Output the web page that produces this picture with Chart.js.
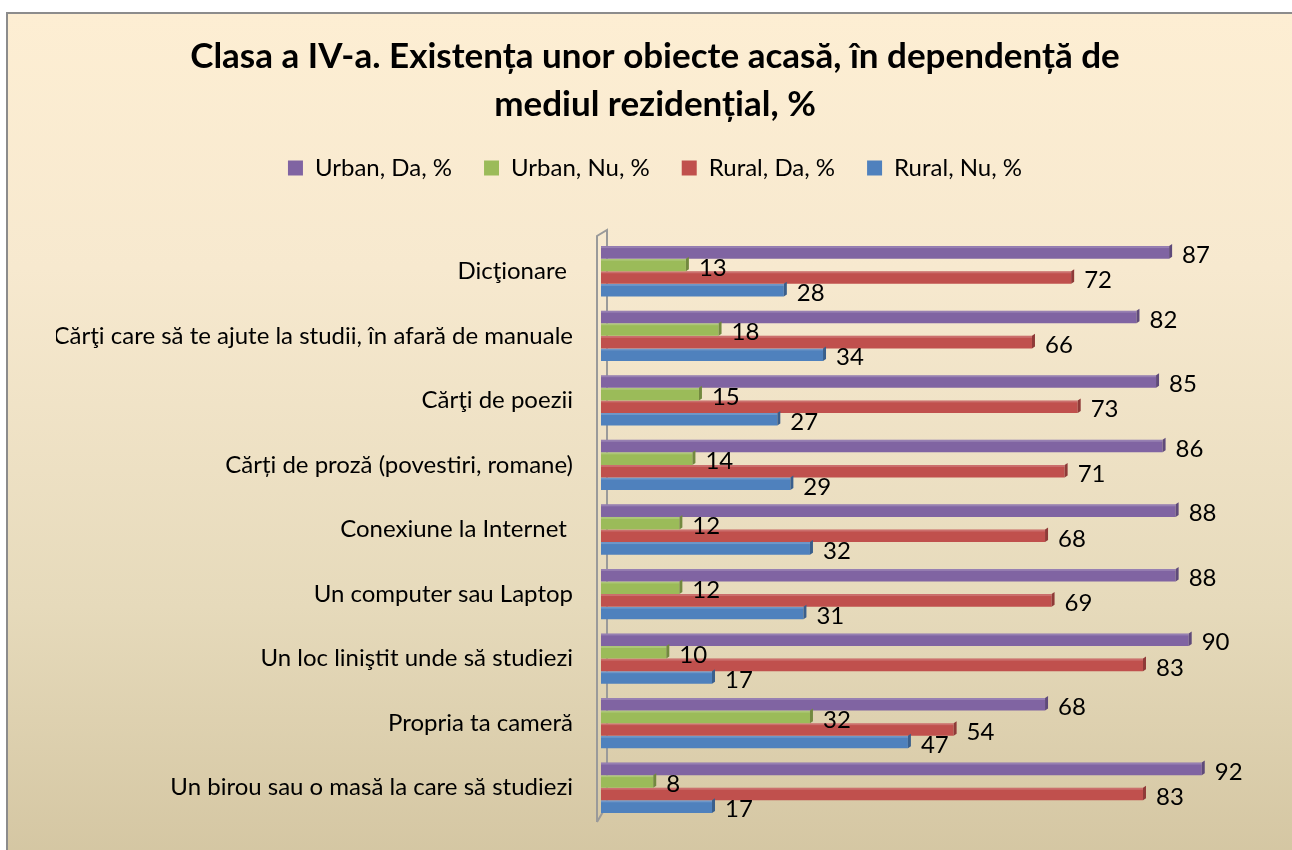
<!DOCTYPE html>
<html><head><meta charset="utf-8">
<script src="https://cdn.jsdelivr.net/npm/chart.js@4.4.0/dist/chart.umd.min.js"></script>
<style>
html,body{margin:0;padding:0;background:#fff;}
#frame{position:absolute;left:6px;top:12px;width:1300px;height:850px;border:2px solid #8c8c8c;box-sizing:border-box;
background:linear-gradient(to bottom,#fdeed3 0%,#f7e9cf 30%,#e6dabb 70%,#d4c6a2 100%);}
#wrap{position:absolute;left:0;top:0;width:1292px;height:850px;}
</style></head><body>
<div id="frame"></div>
<div id="wrap"><canvas id="c" width="1292" height="850"></canvas></div>
<script>
const categories = ["Dicţionare ", "Cărţi care să te ajute la studii, în afară de manuale", "Cărţi de poezii", "Cărți de proză (povestiri, romane)", "Conexiune la Internet ", "Un computer sau Laptop", "Un loc liniştit unde să studiezi", "Propria ta cameră", "Un birou sau o masă la care să studiezi"];
const seriesNames = ["Urban, Da, %", "Urban, Nu, %", "Rural, Da, %", "Rural, Nu, %"];
const urbanDa = [87, 82, 85, 86, 88, 88, 90, 68, 92];
const urbanNu = [13, 18, 15, 14, 12, 12, 10, 32, 8];
const ruralDa = [72, 66, 73, 71, 68, 69, 83, 54, 83];
const ruralNu = [28, 34, 27, 29, 32, 31, 17, 47, 17];
const titleLines = ["Clasa a IV-a. Existența unor obiecte acasă, în dependență de", "mediul rezidențial, %"];
const colors = ["#8064A2", "#9BBB59", "#C0504D", "#4F81BD"];
const darkColors = ["#5f4a7a", "#72893f", "#8f3a38", "#3a5f8c"];

const FONT = "Lato";

const wallPlugin = {
  id: 'wall',
  beforeDatasetsDraw(chart) {
    const ctx = chart.ctx;
    const a = chart.chartArea;
    const x0 = a.left - 4, x1 = a.left + 6;
    const yTop = a.top - 3, yBot = a.bottom + 2;
    ctx.save();
    ctx.strokeStyle = '#9a9a9a';
    ctx.lineWidth = 2;
    ctx.beginPath();
    ctx.moveTo(x0, yBot);
    ctx.lineTo(x0, yTop);
    ctx.lineTo(x1, yTop - 6);
    ctx.lineTo(x1, yBot - 17);
    ctx.lineTo(x0, yBot);
    ctx.stroke();
    ctx.restore();
  }
};

const capPlugin = {
  id: 'caps',
  afterDatasetsDraw(chart) {
    const ctx = chart.ctx;
    ctx.save();
    chart.data.datasets.forEach((ds, di) => {
      const meta = chart.getDatasetMeta(di);
      meta.data.forEach((bar) => {
        const h = bar.height;
        const top = bar.y - h / 2, bot = bar.y + h / 2;
        ctx.fillStyle = darkColors[di];
        ctx.beginPath();
        ctx.moveTo(bar.x, top);
        ctx.lineTo(bar.x + 3, top - 2);
        ctx.lineTo(bar.x + 3, bot - 2);
        ctx.lineTo(bar.x, bot);
        ctx.closePath();
        ctx.fill();
        ctx.fillStyle = 'rgba(255,255,255,0.18)';
        ctx.fillRect(bar.base, top, bar.x - bar.base, 2);
      });
    });
    ctx.restore();
  }
};

const labelPlugin = {
  id: 'vals',
  afterDatasetsDraw(chart) {
    const ctx = chart.ctx;
    ctx.save();
    ctx.font = '24px ' + FONT;
    ctx.fillStyle = '#000';
    ctx.textBaseline = 'middle';
    ctx.textAlign = 'left';
    chart.data.datasets.forEach((ds, di) => {
      const meta = chart.getDatasetMeta(di);
      meta.data.forEach((bar, i) => {
        ctx.fillText(String(ds.data[i]), bar.x + 13, bar.y + 3);
      });
    });
    ctx.restore();
  }
};

new Chart(document.getElementById('c'), {
  type: 'bar',
  data: {
    labels: categories,
    datasets: [
      { label: seriesNames[0], data: urbanDa, backgroundColor: colors[0] },
      { label: seriesNames[1], data: urbanNu, backgroundColor: colors[1] },
      { label: seriesNames[2], data: ruralDa, backgroundColor: colors[2] },
      { label: seriesNames[3], data: ruralNu, backgroundColor: colors[3] }
    ]
  },
  options: {
    indexAxis: 'y',
    responsive: false,
    animation: false,
    layout: { padding: { left: 56, right: 38, top: 0, bottom: 30 } },
    datasets: { bar: { categoryPercentage: 0.78, barPercentage: 1.0, borderWidth: 0 } },
    scales: {
      x: {
        position: 'top',
        min: 0, max: 100,
        ticks: { display: false },
        grid: { display: false, drawTicks: false },
        border: { display: false },
        afterFit(s) { s.height = 49; s.paddingLeft = 0; s.paddingRight = 0; }
      },
      y: {
        ticks: { color: '#000', font: { family: FONT, size: 24 }, padding: 28, autoSkip: false },
        grid: { display: false, drawTicks: false },
        border: { display: false },
        afterFit(s) { s.width = 545; s.paddingTop = 0; s.paddingBottom = 0; }
      }
    },
    plugins: {
      title: {
        display: true,
        text: titleLines,
        color: '#000',
        font: { family: FONT, size: 35, weight: 'bold', lineHeight: 48 / 35 },
        padding: { top: 33, bottom: -5 }
      },
      legend: {
        display: true,
        position: 'top',
        labels: { color: '#000', font: { family: FONT, size: 24 }, boxWidth: 15, boxHeight: 15, padding: 32 }
      },
      tooltip: { enabled: false }
    }
  },
  plugins: [wallPlugin, capPlugin, labelPlugin]
});
</script>
</body></html>
